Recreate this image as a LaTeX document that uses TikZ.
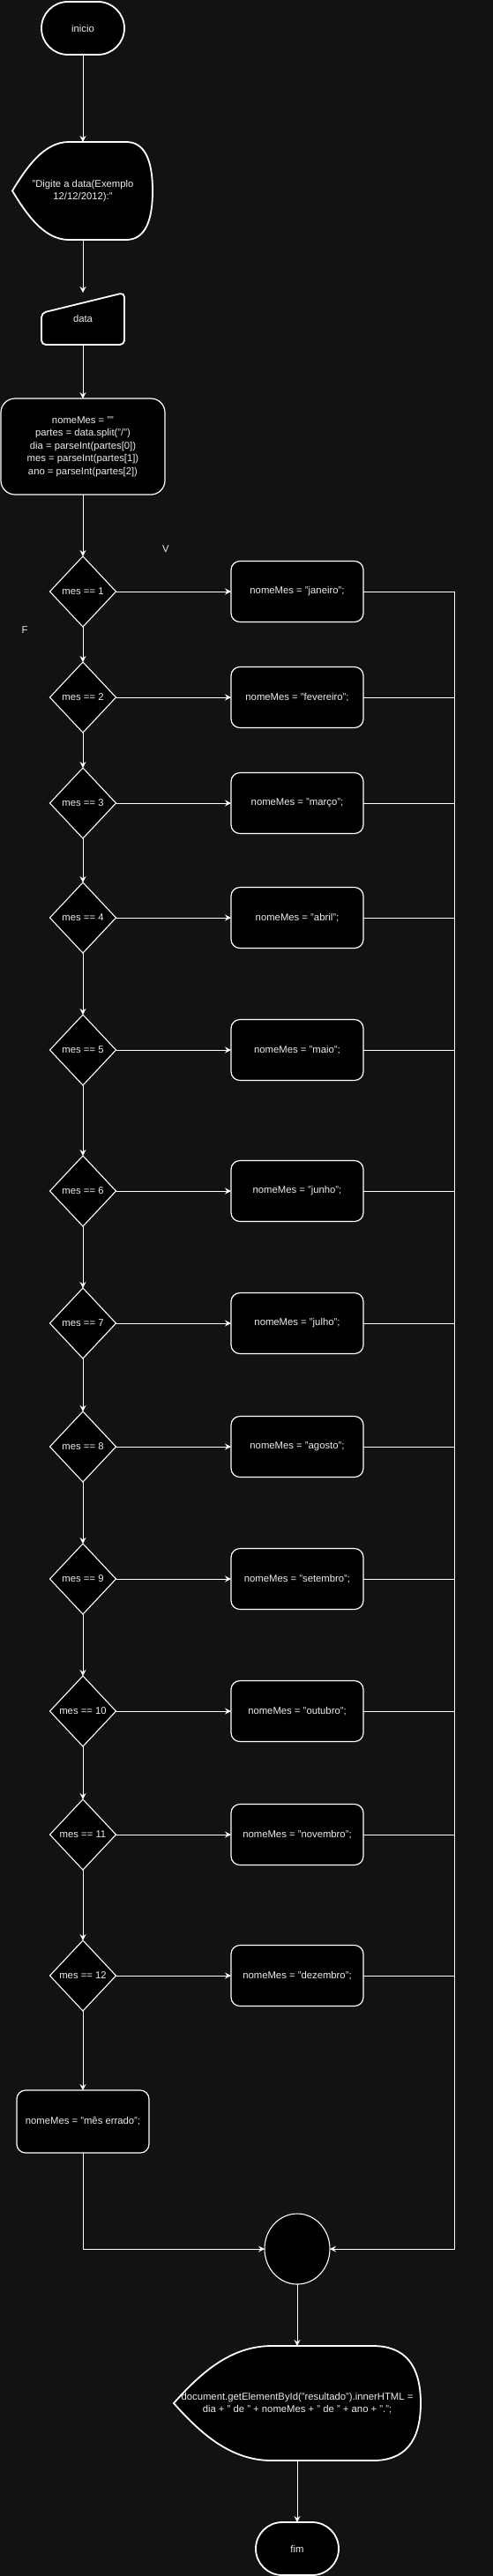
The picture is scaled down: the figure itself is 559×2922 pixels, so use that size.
\documentclass[tikz,border=0pt]{standalone}
\usepackage{fontspec}
\setmainfont{Liberation Sans}
\usetikzlibrary{shapes.geometric,arrows.meta}
\definecolor{bg}{HTML}{121212}
\definecolor{txt}{HTML}{EDEDED}
\begin{document}
\begin{tikzpicture}[x=1pt,y=-1pt,
  base/.style={draw=white, fill=black, text=txt, font=\fontsize{11.3}{14.4}\selectfont, inner sep=0pt, outer sep=0pt, align=center},
  term/.style={base, rectangle, rounded corners=30pt, minimum width=94pt, minimum height=60pt, line width=1.8pt},
  proc/.style={base, rectangle, rounded corners=10pt, minimum width=150pt, minimum height=69pt, line width=1.2pt},
  big/.style={base, rectangle, rounded corners=16pt, minimum width=186pt, minimum height=109pt, line width=1.2pt},
  dec/.style={base, diamond, minimum width=75pt, minimum height=80pt, line width=1.1pt},
  joint/.style={base, ellipse, minimum width=74pt, minimum height=80pt, line width=1.1pt},
  holder/.style={text=txt, font=\fontsize{11.3}{14.4}\selectfont, inner sep=0pt, outer sep=0pt, align=center, rectangle},
  outline/.style={draw=white, fill=black, line width=1.8pt},
  lbl/.style={text=txt, font=\fontsize{11.3}{14.4}\selectfont, inner sep=0pt},
  arr/.style={draw=white, line width=1pt, -{Stealth[length=7pt,width=7pt,inset=2.5pt]}},
  plain/.style={draw=white, line width=1pt}]
\fill[bg] (0,0) rectangle (559,2922);
\useasboundingbox (0,0) rectangle (559,2922);

% start
\node[term] (inicio) at (94,32) {inicio};

% display shape 1
\draw[outline] (14,216.5) .. controls (30,190) and (50,161) .. (78,161) -- (143,161)
  .. controls (163,161) and (173,179.5) .. (173,216.5)
  .. controls (173,253.5) and (163,272) .. (143,272) -- (78,272)
  .. controls (50,272) and (30,243) .. cycle;
\node[holder, minimum width=159pt, minimum height=111pt] (msg) at (94,216.5) {"Digite a data(Exemplo\\12/12/2012):"};

% manual input
\draw[outline, rounded corners=5pt] (47,391) -- (47,355) -- (141,332) -- (141,391) -- cycle;
\node[holder, minimum width=94pt, minimum height=59pt] (data) at (94,361.5) {data};

% process
\node[big] (proc) at (94,506.5) {nomeMes = ""\\partes = data.split("/")\\dia = parseInt(partes[0])\\mes = parseInt(partes[1])\\ano = parseInt(partes[2])};

\draw[arr] (inicio.south) -- (msg.north);
\draw[arr] (msg.south) -- (data.north);
\draw[arr] (data.south) -- (proc.north);

\coordinate (bus) at (515,0);

\foreach \i/\y/\m in {1/671/janeiro,2/791/fevereiro,3/911/março,4/1041/abril,5/1191/maio,6/1351/junho,7/1501/julho,8/1641/agosto,9/1791/setembro,10/1941/outubro,11/2081/novembro,12/2241/dezembro}{
  \node[dec] (d\i) at (94,\y) {mes == \i};
  \node[proc] (b\i) at (337,\y) {nomeMes = "\m";};
  \draw[arr] (d\i.east) -- (b\i.west);
  \draw[plain] (b\i.east) -- (b\i.east -| bus);
}

\draw[arr] (proc.south) -- (d1.north);
\foreach \i in {1,...,11}{
  \pgfmathtruncatemacro{\j}{\i+1}
  \draw[arr] (d\i.south) -- (d\j.north);
}

\node[lbl] (V) at (188,623) {V};
\node[lbl] (F) at (28,715) {F};

\node[proc, minimum height=71pt] (err) at (94,2406.5) {nomeMes = "mês errado";};
\draw[arr] (d12.south) -- (err.north);

\node[joint] (circ) at (337,2551) {};
\draw[arr] (err.south) |- (circ.west);
\draw[arr] (b1.east) -- (b1.east -| bus) -- (bus |- circ.east) -- (circ.east);

% display shape 2
\draw[outline] (197,2726) .. controls (224.75,2695) and (259.4,2661) .. (308,2661) -- (423,2661)
  .. controls (459,2661) and (477,2682.7) .. (477,2726)
  .. controls (477,2769.3) and (459,2791) .. (423,2791) -- (308,2791)
  .. controls (259.4,2791) and (224.75,2757) .. cycle;
\node[holder, minimum width=280pt, minimum height=130pt] (out) at (337,2726) {document.getElementById("resultado").innerHTML =\\dia + " de " + nomeMes + " de " + ano + ".";};

\node[term] (fim) at (337,2891) {fim};

\draw[arr] (circ.south) -- (out.north);
\draw[arr] (out.south) -- (fim.north);
\end{tikzpicture}
\end{document}
